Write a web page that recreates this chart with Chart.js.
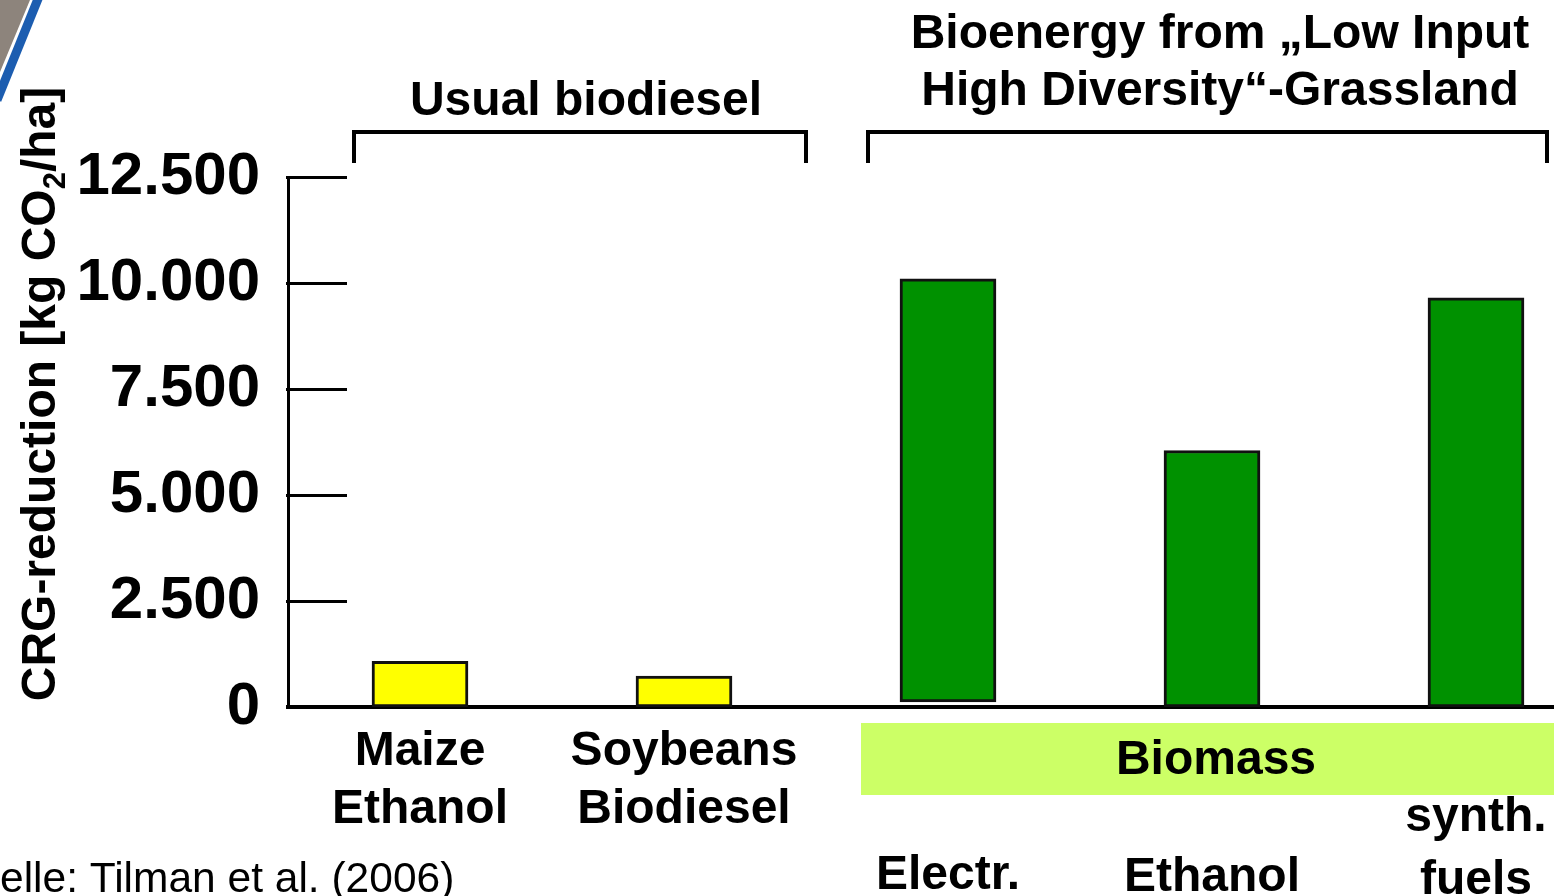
<!DOCTYPE html>
<html><head><meta charset="utf-8">
<script src="https://cdn.jsdelivr.net/npm/chart.js@4/dist/chart.umd.min.js"></script>
<style>
html,body{margin:0;padding:0;background:#fff;overflow:hidden}
#wrap{position:relative;width:1554px;height:896px;overflow:hidden;background:#fff}
canvas{display:block}
</style></head>
<body><div id="wrap"><canvas id="c" width="1610" height="896" style="width:1610px;height:896px"></canvas></div>
<script>
// ---- data ----
const categories = [['Maize','Ethanol'], ['Soybeans','Biodiesel'], ['', '', 'Electr.'], ['', '', 'Ethanol'], ['', 'synth.', 'fuels']];
const barBase = [0, 0, 120, 0, 0];
const barTop = [1080, 730, 10100, 6050, 9650];
const yTicks = [0, 2500, 5000, 7500, 10000, 12500];
const yTickLabels = ['0', '2.500', '5.000', '7.500', '10.000', '12.500'];
const yTitleParts = ['CRG-reduction [kg CO', '2', '/ha]'];
const groupTitles = ['Usual biodiesel', 'Bioenergy from \u201ELow Input', 'High Diversity\u201C-Grassland'];
const bandLabel = 'Biomass';
const sourceNote = 'elle: Tilman et al. (2006)';

// ---- styles ----
const FONT = '"Liberation Sans", Arial, Helvetica, sans-serif';
const barColors = ['#FFFF00', '#FFFF00', '#009100', '#009100', '#009100'];
const tickLineHeights = ['58px', '58px', '61px', '62px', '63px'];

const deco = {
  id: 'deco',
  beforeDraw(chart) {
    const ctx = chart.ctx;
    ctx.save();
    ctx.fillStyle = '#fff';
    ctx.fillRect(0, 0, chart.width, chart.height);
    // biomass band
    ctx.fillStyle = '#CCFF66';
    ctx.fillRect(861, 723, 800, 72);
    ctx.fillStyle = '#000';
    ctx.font = 'bold 48px ' + FONT;
    ctx.textAlign = 'center';
    ctx.textBaseline = 'alphabetic';
    ctx.fillText(bandLabel, 1216, 774);
    // top-left decoration
    ctx.fillStyle = '#8d847c';
    ctx.beginPath(); ctx.moveTo(0, 0); ctx.lineTo(30, 0); ctx.lineTo(0, 72); ctx.closePath(); ctx.fill();
    ctx.strokeStyle = '#1C5DB0';
    ctx.lineWidth = 9;
    ctx.beginPath(); ctx.moveTo(40, -6); ctx.lineTo(-3, 100); ctx.stroke();
    ctx.restore();
  },
  afterDraw(chart) {
    const ctx = chart.ctx, ys = chart.scales.y, xs = chart.scales.x;
    ctx.save();
    // inside tick marks on y axis
    ctx.strokeStyle = '#000';
    ctx.lineWidth = 3;
    yTicks.forEach(v => {
      if (v === 0) return;
      const py = Math.round(ys.getPixelForValue(v)) + 0.5;
      ctx.beginPath(); ctx.moveTo(xs.left - 2, py); ctx.lineTo(xs.left + 59, py); ctx.stroke();
    });
    // y axis title with subscript
    ctx.fillStyle = '#000';
    ctx.translate(55, 394);
    ctx.rotate(-Math.PI / 2);
    const mainF = 'bold 48px ' + FONT, subF = 'bold 31px ' + FONT;
    ctx.font = mainF; const w1 = ctx.measureText(yTitleParts[0]).width; const w3 = ctx.measureText(yTitleParts[2]).width;
    ctx.font = subF; const w2 = ctx.measureText(yTitleParts[1]).width;
    let sx = -(w1 + w2 + w3) / 2;
    ctx.textAlign = 'left'; ctx.textBaseline = 'alphabetic';
    ctx.font = mainF; ctx.fillText(yTitleParts[0], sx, 0); sx += w1;
    ctx.font = subF; ctx.fillText(yTitleParts[1], sx, 10); sx += w2;
    ctx.font = mainF; ctx.fillText(yTitleParts[2], sx, 0);
    ctx.setTransform(1, 0, 0, 1, 0, 0);
    // group titles
    ctx.font = 'bold 48px ' + FONT;
    ctx.textAlign = 'center';
    ctx.fillText(groupTitles[0], 586, 115);
    ctx.fillText(groupTitles[1], 1220, 48);
    ctx.fillText(groupTitles[2], 1220, 105);
    // brackets
    ctx.lineWidth = 4;
    ctx.lineJoin = 'miter';
    ctx.beginPath();
    ctx.moveTo(354, 163); ctx.lineTo(354, 132); ctx.lineTo(806, 132); ctx.lineTo(806, 163);
    ctx.stroke();
    ctx.beginPath();
    ctx.moveTo(868, 163); ctx.lineTo(868, 132); ctx.lineTo(1547, 132); ctx.lineTo(1547, 163);
    ctx.stroke();
    // source note
    ctx.font = '42.5px ' + FONT;
    ctx.textAlign = 'left';
    ctx.fillText(sourceNote, 0, 892);
    ctx.restore();
  }
};

new Chart(document.getElementById('c'), {
  type: 'bar',
  data: {
    labels: categories,
    datasets: [{
      data: barTop.map((t, i) => [barBase[i], t]),
      backgroundColor: barColors,
      borderColor: '#111',
      borderWidth: 3,
      borderSkipped: false,
      barThickness: 96
    }]
  },
  options: {
    responsive: false,
    animation: false,
    devicePixelRatio: 1,
    layout: { padding: { top: 177, right: 2, left: 0, bottom: 0 } },
    plugins: { legend: { display: false }, tooltip: { enabled: false }, title: { display: false } },
    scales: {
      x: {
        grid: { display: false, drawTicks: false },
        border: { display: true, color: '#000', width: 4 },
        ticks: {
          color: '#000', padding: 16, maxRotation: 0, minRotation: 0, autoSkip: false,
          font: (c) => ({ family: FONT, weight: 'bold', size: 48, lineHeight: tickLineHeights[c.index] || '58px' })
        },
        afterFit: s => { s.height = 189; }
      },
      y: {
        min: 0, max: 12500,
        grid: { display: false, drawTicks: false },
        border: { display: true, color: '#000', width: 3 },
        ticks: {
          stepSize: 2500, color: '#000', padding: 28,
          font: { family: FONT, weight: 'bold', size: 60 },
          callback: (v) => { const i = yTicks.indexOf(v); return i >= 0 ? yTickLabels[i] : ''; }
        },
        afterFit: s => { s.width = 288; }
      }
    }
  },
  plugins: [deco]
});
</script>
</body></html>
